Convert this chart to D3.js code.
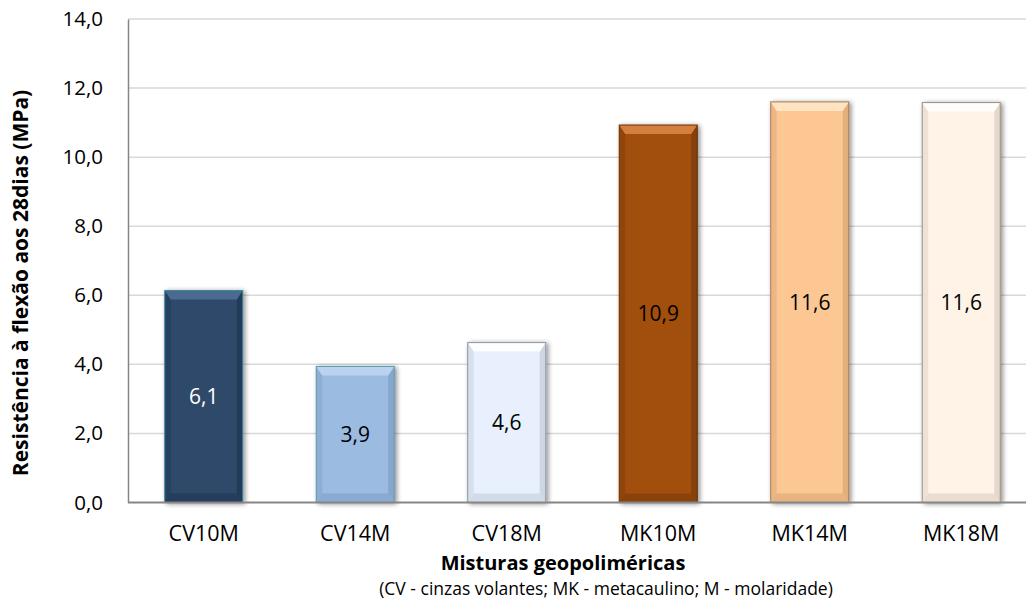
<!DOCTYPE html>
<html>
<head>
<meta charset="utf-8">
<script src="https://cdn.jsdelivr.net/npm/d3@7"></script>
<style>
html,body{margin:0;padding:0;background:#fff;}
svg{display:block;font-family:"Open Sans","Noto Sans",sans-serif;}
</style>
</head>
<body>
<svg id="chart" width="1026" height="604"></svg>
<script>
const categories = ["CV10M","CV14M","CV18M","MK10M","MK14M","MK18M"];
const values = [6.14, 3.94, 4.63, 10.93, 11.6, 11.58];
const yTicks = [0,2,4,6,8,10,12,14];
const yTitle = "Resistência à flexão aos 28dias (MPa)";
const xTitle = "Misturas geopoliméricas";
const xSubtitle = "(CV - cinzas volantes; MK - metacaulino; M - molaridade)";

const barColors = ["#2D4A6B","#9BBBE1","#E7F0FC","#A24F0D","#FDC794","#FEF3E6"];
const topColors = ["#4F6F94","#BCD6F2","#FFFFFF","#D98443","#FFE6C8","#FFFFFF"];
const darkColors = ["#1F3550","#7F9FC6","#C4CEDA","#7A3A08","#D8A574","#DCCFC0"];
const edgeColors = ["#3E8A9C","#5E9AAE","#8A96A6","#6B3306","#A57B55","#9A8E82"];
const labelColors = ["#FFFFFF","#000000","#000000","#000000","#000000","#000000"];

const svg = d3.select("#chart");
const W = 1026, H = 604;
const m = {left:128, right:-11, top:19, bottom:101.5};

const x = d3.scaleBand().domain(categories).range([m.left, W - m.right]).paddingInner(0.485).paddingOuter(0.2425);
const y = d3.scaleLinear().domain([0,14]).range([H - m.bottom, m.top]);

const defs = svg.append("defs");
const f = defs.append("filter").attr("id","shadow").attr("x","-20%").attr("y","-10%").attr("width","150%").attr("height","130%");
f.append("feGaussianBlur").attr("in","SourceAlpha").attr("stdDeviation",2.5).attr("result","b");
f.append("feOffset").attr("in","b").attr("dx",2).attr("dy",1).attr("result","o");
f.append("feComponentTransfer").attr("in","o").attr("result","o2").append("feFuncA").attr("type","linear").attr("slope",0.45);
const mg = f.append("feMerge");
mg.append("feMergeNode").attr("in","o2");
mg.append("feMergeNode").attr("in","SourceGraphic");

// gridlines
svg.append("g").selectAll("line").data(yTicks.filter(d=>d>0)).join("line")
  .attr("x1", m.left).attr("x2", W)
  .attr("y1", d=>y(d)).attr("y2", d=>y(d))
  .attr("stroke","#D9D9D9").attr("stroke-width",1.5);

// y axis
const yAxis = d3.axisLeft(y).tickValues(yTicks).tickSize(0).tickPadding(25)
  .tickFormat(d => d3.format(".1f")(d).replace(".",","));
const gy = svg.append("g").attr("transform",`translate(${m.left},0)`).call(yAxis);
gy.select(".domain").attr("stroke","#868686").attr("stroke-width",1.5);
gy.selectAll("text").attr("font-size",20.5).attr("fill","#000").attr("font-family","'Open Sans',sans-serif");

// bars
const bw = x.bandwidth();
const bev = 9, sb = 6;
const bars = svg.append("g").selectAll("g").data(categories).join("g").attr("filter","url(#shadow)");
bars.each(function(c,i){
  const g = d3.select(this);
  const x0 = x(c), x1 = x0 + bw, y0 = y(values[i]), y1 = y(0);
  g.append("rect").attr("x",x0).attr("y",y0).attr("width",bw).attr("height",y1-y0)
    .attr("fill",barColors[i]);
  g.append("polygon").attr("points",[[x0,y0],[x0+sb,y0+bev],[x0+sb,y1-bev],[x0,y1]].join(" "))
    .attr("fill",darkColors[i]).attr("opacity",0.45);
  g.append("polygon").attr("points",[[x1,y0],[x1-sb,y0+bev],[x1-sb,y1-bev],[x1,y1]].join(" "))
    .attr("fill",darkColors[i]).attr("opacity",0.75);
  g.append("polygon").attr("points",[[x0,y1],[x0+sb,y1-bev],[x1-sb,y1-bev],[x1,y1]].join(" "))
    .attr("fill",darkColors[i]).attr("opacity",0.6);
  g.append("polygon").attr("points",[[x0,y0],[x1,y0],[x1-sb,y0+bev],[x0+sb,y0+bev]].join(" "))
    .attr("fill",topColors[i]).attr("opacity",0.9);
  g.append("rect").attr("x",x0).attr("y",y0).attr("width",bw).attr("height",y1-y0)
    .attr("fill","none").attr("stroke",edgeColors[i]).attr("stroke-width",1);
});

// baseline
svg.append("line").attr("x1",m.left).attr("x2",W).attr("y1",y(0)).attr("y2",y(0))
  .attr("stroke","#868686").attr("stroke-width",2);

// value labels
svg.append("g").selectAll("text").data(categories).join("text")
  .attr("x", c => x(c) + bw/2)
  .attr("y", (c,i) => (y(values[i]) + y(0))/2)
  .attr("dy","0.35em").attr("text-anchor","middle")
  .attr("font-size",21).attr("fill",(c,i)=>labelColors[i])
  .text((c,i)=> d3.format(".1f")(values[i]).replace(".",","));

// x labels
const xAxis = d3.axisBottom(x).tickSize(0).tickPadding(23);
const gx = svg.append("g").attr("transform",`translate(0,${y(0)})`).call(xAxis);
gx.select(".domain").remove();
gx.selectAll("text").attr("font-size",21.5).attr("fill","#000").attr("font-family","'Open Sans',sans-serif");

// titles
svg.append("text").attr("x",563).attr("y",570).attr("text-anchor","middle")
  .attr("font-size",20).attr("font-weight","bold").text(xTitle);
svg.append("text").attr("x",606).attr("y",595).attr("text-anchor","middle")
  .attr("font-size",17.5).text(xSubtitle);
svg.append("text").attr("transform","translate(28,283) rotate(-90)").attr("text-anchor","middle")
  .attr("font-size",21).attr("font-weight","bold").text(yTitle);
</script>
</body>
</html>
